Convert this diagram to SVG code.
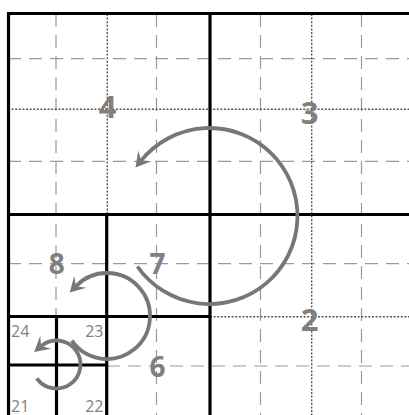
<svg xmlns="http://www.w3.org/2000/svg" width="409" height="415" viewBox="0 0 409 415">
<style>
.dash{stroke:#9a9a9a;stroke-width:1.2;stroke-dasharray:13 8;fill:none}
.dot{stroke:#555;stroke-width:1.4;stroke-dasharray:2 1.6;fill:none}
.thick{stroke:#000;stroke-width:3.2;fill:none;stroke-linecap:square}
.big{font-family:"Open Sans","Noto Sans","DejaVu Sans",sans-serif;font-weight:bold;fill:#808080;text-anchor:middle}
.small{font-family:"Open Sans","Noto Sans","DejaVu Sans",sans-serif;font-size:16px;fill:#808080}
.arc{stroke:#777;stroke-width:3.8;fill:none;marker-end:url(#ah)}
</style>
<defs>
<marker id="ah" markerUnits="userSpaceOnUse" markerWidth="20" markerHeight="20" viewBox="-2 -10 20 20" refX="5" refY="0" orient="auto" overflow="visible">
<path d="M14,0 L-1,-8.5 L5,0 L-1,8.5 Z" fill="#777"/>
</marker>
</defs>
<rect width="409" height="415" fill="#fff"/>
<g id="grid">
<path class="dash" d="M56,14 V316 M156.5,14 V415 M260.5,14 V415 M361.5,14 V415 M8,58.7 H409 M8,161.3 H409 M8,263.7 H409 M107,366 H409"/>
<path class="dot" d="M107.3,14 V214 M311.7,14 V415 M8,109.3 H409 M210,316.7 H409"/>
</g>
<g id="frame">
<path class="thick" d="M8.5,13.5 H409 M8.5,13.5 V415 M210,13.5 V415 M8.5,214.5 H409 M106.7,214.5 V415 M8.5,316.5 H210 M56.5,316.5 V415 M8.5,365 H106.7"/>
</g>
<g id="labels">
<text class="big" x="107.5" y="118" font-size="31">4</text>
<text class="big" x="309.5" y="124" font-size="31">3</text>
<text class="big" x="309.7" y="331" font-size="31">2</text>
<text class="big" x="56.7" y="274" font-size="28">8</text>
<text class="big" x="157.5" y="274" font-size="28">7</text>
<text class="big" x="157.5" y="376.5" font-size="28">6</text>
<text class="small" x="11" y="336.5">24</text>
<text class="small" x="103.5" y="336.5" text-anchor="end">23</text>
<text class="small" x="11" y="411.5">21</text>
<text class="small" x="103.5" y="411.5" text-anchor="end">22</text>
</g>
<g id="connectors">
<path class="arc" d="M137.4,266.5 A88,88 0 1 0 141.11,160.62"/>
<path class="arc" d="M71.8,340.7 A43,43 0 1 0 76.07,286.13"/>
<path class="arc" d="M36.8,378.3 A24,24 0 1 0 41.07,346.11"/>
</g>
</svg>
